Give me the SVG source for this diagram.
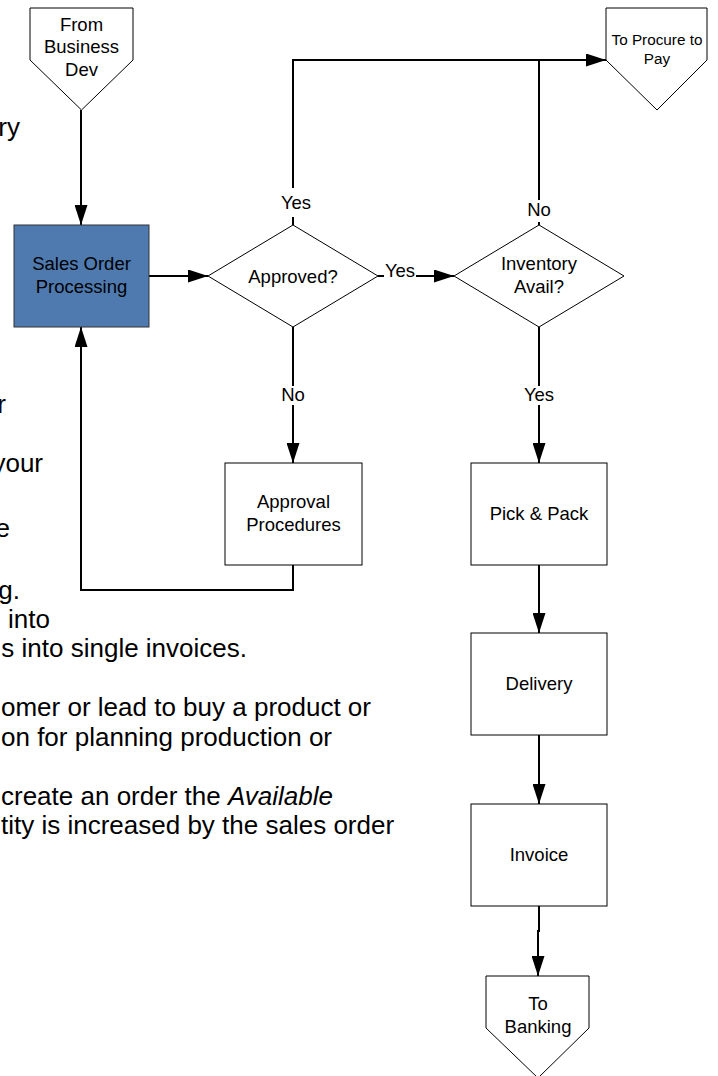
<svg xmlns="http://www.w3.org/2000/svg" width="718" height="1076" viewBox="0 0 718 1076">
<style>
.node{fill:#fff;stroke:#000;stroke-width:1}
.blue{fill:#4F7AAF;stroke:#333;stroke-width:1}
.lbl{font-family:"Liberation Sans",Arial,sans-serif;font-size:18.5px;fill:#000;text-anchor:middle}
.sm{font-size:15.3px}
.bg{font-family:"Liberation Sans",Arial,sans-serif;font-size:26px;fill:#000}
.con{fill:none;stroke:#000;stroke-width:2}
</style>
<defs>
<marker id="ah" markerUnits="userSpaceOnUse" markerWidth="20" markerHeight="13" refX="20" refY="6.5" orient="auto">
<path d="M0,0 L20,6.5 L0,13 z" fill="#000"/>
</marker>
</defs>
<rect width="718" height="1076" fill="#fff"/>
<g id="background-text">
<text class="bg" x="20" y="136" text-anchor="end">ry</text>
<text class="bg" x="6" y="413" text-anchor="end">r</text>
<text class="bg" x="43" y="472" text-anchor="end">your</text>
<text class="bg" x="10" y="537" text-anchor="end">e</text>
<text class="bg" x="20" y="599" text-anchor="end">g.</text>
<text class="bg" x="50" y="628" text-anchor="end">into</text>
<text class="bg" x="247" y="657" text-anchor="end">s into single invoices.</text>
<text class="bg" x="1" y="716">omer or lead to buy a product or</text>
<text class="bg" x="1" y="746">on for planning production or</text>
<text class="bg" x="1" y="805">create an order the <tspan font-style="italic">Available</tspan></text>
<text class="bg" x="1" y="834">tity is increased by the sales order</text>
</g>
<g id="connectors">
<path class="con" d="M81,110 V225" marker-end="url(#ah)"/>
<path class="con" d="M149,276 H208" marker-end="url(#ah)"/>
<path class="con" d="M293,225 V217 M293,188 V60 H606" marker-end="url(#ah)"/>
<path class="con" d="M539,225 V222 M539,200 V60"/>
<path class="con" d="M378,276 H384 M416,276 H454" marker-end="url(#ah)"/>
<path class="con" d="M293,327 V386 M293,405 V463" marker-end="url(#ah)"/>
<path class="con" d="M539,327 V386 M539,405 V463" marker-end="url(#ah)"/>
<path class="con" d="M293,565 V590 H81 V327" marker-end="url(#ah)"/>
<path class="con" d="M539,565 V633" marker-end="url(#ah)"/>
<path class="con" d="M539,735 V804" marker-end="url(#ah)"/>
<path class="con" d="M539,906 V931 H538 V976" marker-end="url(#ah)"/>
<text class="lbl" x="296" y="209">Yes</text>
<text class="lbl" x="400" y="277">Yes</text>
<text class="lbl" x="539" y="216">No</text>
<text class="lbl" x="293" y="401">No</text>
<text class="lbl" x="539" y="401">Yes</text>
</g>
<g id="from-business-dev">
<polygon class="node" points="30,8 133,8 133,60 81.5,110 30,60"/>
<text class="lbl" x="81.5" y="31">From</text>
<text class="lbl" x="81.5" y="53">Business</text>
<text class="lbl" x="81.5" y="76">Dev</text>
</g>
<g id="sales-order-processing">
<rect class="blue" x="14" y="225" width="135" height="102"/>
<text class="lbl" x="81.5" y="270">Sales Order</text>
<text class="lbl" x="81.5" y="293">Processing</text>
</g>
<g id="approved">
<polygon class="node" points="293,225 378,276 293,327 208,276"/>
<text class="lbl" x="293" y="283">Approved?</text>
</g>
<g id="inventory-avail">
<polygon class="node" points="539,225 624,276 539,327 454,276"/>
<text class="lbl" x="539" y="270">Inventory</text>
<text class="lbl" x="539" y="293">Avail?</text>
</g>
<g id="to-procure-to-pay">
<polygon class="node" points="606,8 707,8 707,60 657,110 606,60"/>
<text class="lbl sm" x="657" y="45">To Procure to</text>
<text class="lbl sm" x="657" y="64">Pay</text>
</g>
<g id="approval-procedures">
<rect class="node" x="225" y="463" width="137" height="102"/>
<text class="lbl" x="293.5" y="508">Approval</text>
<text class="lbl" x="293.5" y="531">Procedures</text>
</g>
<g id="pick-pack">
<rect class="node" x="471" y="463" width="136" height="102"/>
<text class="lbl" x="539" y="520">Pick &amp; Pack</text>
</g>
<g id="delivery">
<rect class="node" x="471" y="633" width="136" height="102"/>
<text class="lbl" x="539" y="690">Delivery</text>
</g>
<g id="invoice">
<rect class="node" x="471" y="804" width="136" height="102"/>
<text class="lbl" x="539" y="861">Invoice</text>
</g>
<g id="to-banking">
<polygon class="node" points="486,976 589,976 589,1028 538,1078 486,1028"/>
<text class="lbl" x="538" y="1010">To</text>
<text class="lbl" x="538" y="1033">Banking</text>
</g>
</svg>
